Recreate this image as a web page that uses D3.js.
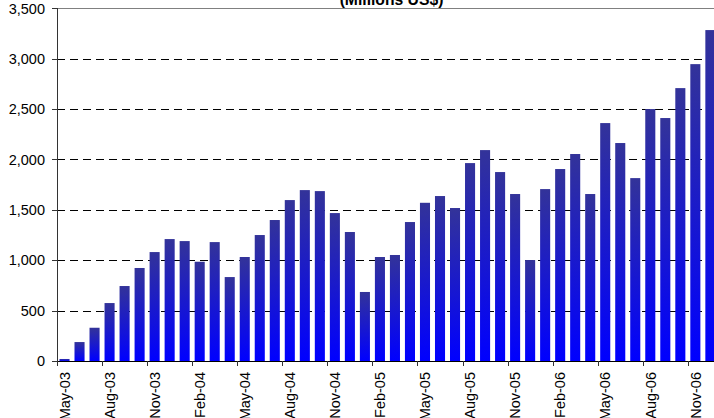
<!DOCTYPE html>
<html><head><meta charset="utf-8">
<script src="https://cdn.jsdelivr.net/npm/d3@7/dist/d3.min.js"></script>
<style>
html,body{margin:0;padding:0;background:#fff;overflow:hidden}
svg{display:block;font-family:"Liberation Sans",Arial,sans-serif}
</style></head>
<body>
<svg id="c" width="714" height="418"></svg>
<script>
const months = ["May-03","Jun-03","Jul-03","Aug-03","Sep-03","Oct-03","Nov-03","Dec-03",
"Jan-04","Feb-04","Mar-04","Apr-04","May-04","Jun-04","Jul-04","Aug-04","Sep-04","Oct-04","Nov-04","Dec-04",
"Jan-05","Feb-05","Mar-05","Apr-05","May-05","Jun-05","Jul-05","Aug-05","Sep-05","Oct-05","Nov-05","Dec-05",
"Jan-06","Feb-06","Mar-06","Apr-06","May-06","Jun-06","Jul-06","Aug-06","Sep-06","Oct-06","Nov-06","Dec-06"];
const values = [20,188,330,575,744,923,1081,1210,
1190,985,1180,833,1032,1250,1399,1597,1696,1686,1468,1280,
685,1032,1052,1379,1570,1637,1518,1964,2093,1875,1657,1002,
1706,1905,2054,1657,2361,2163,1815,2500,2411,2708,2946,3284];
const labelledMonths = ["May-03","Aug-03","Nov-03","Feb-04","May-04","Aug-04","Nov-04","Feb-05","May-05","Aug-05","Nov-05","Feb-06","May-06","Aug-06","Nov-06"];
const yTicks = [0,500,1000,1500,2000,2500,3000,3500];
const title = "(Millions US$)";

const svg = d3.select("#c");
const x0 = 57, x1 = 57 + 44*15.02, yb = 361, yt = 8.3;
const x = d3.scaleBand().domain(months).range([x0, x1]).paddingInner(0.33).paddingOuter(0.165);
const step = x.step();
const y = d3.scaleLinear().domain([0,3500]).range([yb, yt]);

const defs = svg.append("defs");
const g = defs.append("linearGradient").attr("id","bg").attr("x1",0).attr("y1",0).attr("x2",0).attr("y2",1);
g.append("stop").attr("offset","0%").attr("stop-color","#333399");
g.append("stop").attr("offset","100%").attr("stop-color","#0000ff");

// gridlines
svg.append("g").selectAll("line").data(yTicks.filter(d=>d>0 && d<3500)).join("line")
  .attr("x1", x0).attr("x2", 714)
  .attr("y1", d=>Math.round(y(d))+0.5).attr("y2", d=>Math.round(y(d))+0.5)
  .attr("stroke","#000").attr("stroke-width",1).attr("stroke-dasharray","8,5");
// top border
svg.append("line").attr("x1",52).attr("x2",714)
  .attr("y1",Math.round(y(3500))+0.5).attr("y2",Math.round(y(3500))+0.5)
  .attr("stroke","#808080").attr("stroke-width",1);

// bars
svg.append("g").selectAll("rect").data(months).join("rect")
  .attr("x", (d)=>x(d)).attr("width", x.bandwidth())
  .attr("y", (d,i)=>y(values[i])).attr("height",(d,i)=>yb - y(values[i]))
  .attr("fill","url(#bg)");

// y axis
const ya = svg.append("g");
ya.append("line").attr("x1",x0+0.5).attr("x2",x0+0.5).attr("y1",Math.round(y(3500))).attr("y2",yb+0.5)
  .attr("stroke","#333").attr("stroke-width",1);
ya.selectAll("line.t").data(yTicks).join("line").attr("class","t")
  .attr("x1",52).attr("x2",x0).attr("y1",d=>Math.round(y(d))+0.5).attr("y2",d=>Math.round(y(d))+0.5)
  .attr("stroke","#333");
ya.selectAll("text").data(yTicks).join("text")
  .attr("x",45).attr("y",d=>y(d)).attr("dy","0.36em").attr("text-anchor","end")
  .attr("font-size","14.5px").attr("fill","#000")
  .text(d=>d3.format(",")(d));

// x axis
const xa = svg.append("g");
xa.append("line").attr("x1",x0).attr("x2",714).attr("y1",yb+0.5).attr("y2",yb+0.5).attr("stroke","#000");
xa.selectAll("line.t").data(labelledMonths).join("line").attr("class","t")
  .attr("x1",d=>Math.round(x(d) - (step - x.bandwidth())/2)+0.5)
  .attr("x2",d=>Math.round(x(d) - (step - x.bandwidth())/2)+0.5)
  .attr("y1",yb).attr("y2",yb+5).attr("stroke","#333");
xa.selectAll("text").data(labelledMonths).join("text")
  .attr("transform",d=>`translate(${x(d)+x.bandwidth()/2},372) rotate(-90)`)
  .attr("dy","0.36em").attr("text-anchor","end").attr("font-size","14.5px").attr("fill","#000")
  .text(d=>d);

// title
svg.append("text").attr("x",391.5).attr("y",5).attr("text-anchor","middle")
  .attr("font-size","15.7px").attr("font-weight","bold").text(title);
</script>
</body></html>
